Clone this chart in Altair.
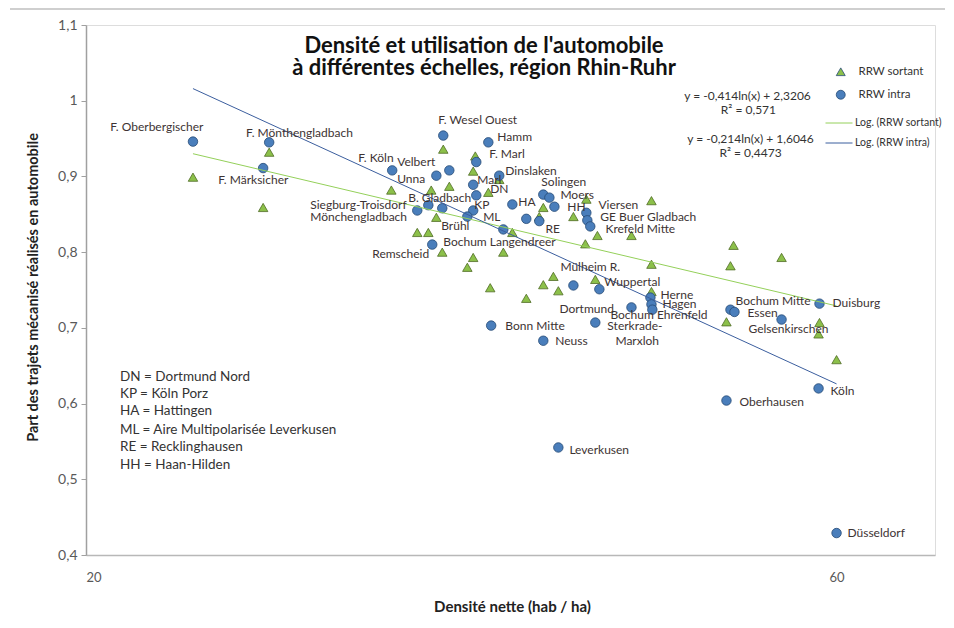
import altair as alt
import pandas as pd

# ---- data ----
sortant_x = [23.39, 26.15, 25.92, 31.27, 33.15, 34.04, 33.74, 35.36, 35.25, 36.04,
             36.62, 33.40, 32.48, 33.01, 33.69, 35.25, 34.95, 36.84, 37.33, 36.14,
             38.10, 39.06, 39.64, 39.93, 39.06, 38.83, 41.60, 40.82, 42.28, 41.54,
             42.15, 44.44, 45.76, 45.76, 45.76, 51.60, 51.37, 55.36, 51.07, 58.52,
             58.44, 60.00]
sortant_y = [0.899, 0.932, 0.859, 0.882, 0.882, 0.887, 0.936, 0.927, 0.907, 0.879,
             0.896, 0.846, 0.826, 0.826, 0.800, 0.793, 0.780, 0.800, 0.826, 0.753,
             0.739, 0.757, 0.768, 0.749, 0.859, 0.847, 0.870, 0.847, 0.822, 0.811,
             0.764, 0.822, 0.868, 0.784, 0.748, 0.809, 0.782, 0.793, 0.708, 0.707,
             0.692, 0.658]

intra_x = [23.39, 26.15, 25.92, 31.31, 33.40, 34.04, 33.74, 36.04, 35.41, 36.62,
           35.25, 35.41, 35.25, 34.95, 32.48, 33.01, 33.69, 37.33, 38.10, 36.84,
           39.06, 39.41, 39.70, 38.83, 41.60, 41.66, 41.84, 33.20, 40.82, 42.40,
           36.19, 39.06, 42.15, 44.44, 45.69, 45.76, 45.82, 51.37, 51.67, 55.36,
           58.52, 58.44, 51.07, 39.93, 60.00]
intra_y = [0.946, 0.945, 0.911, 0.908, 0.901, 0.908, 0.954, 0.945, 0.919, 0.901,
           0.889, 0.875, 0.855, 0.847, 0.855, 0.862, 0.858, 0.863, 0.844, 0.830,
           0.876, 0.872, 0.860, 0.841, 0.852, 0.842, 0.834, 0.810, 0.756, 0.751,
           0.703, 0.683, 0.707, 0.727, 0.740, 0.731, 0.724, 0.724, 0.721, 0.711,
           0.732, 0.620, 0.604, 0.542, 0.429]

label_text = ["F. Oberbergischer", "F. Mönthengladbach", "F. Märksicher", "F. Köln",
              "Velbert", "Unna", "F. Wesel Ouest", "Hamm", "F. Marl", "Dinslaken",
              "Marl", "DN", "B. Gladbach", "Siegburg-Troisdorf", "Mönchengladbach",
              "KP", "ML", "Brühl", "HA", "Solingen", "Moers", "HH", "RE", "Viersen",
              "GE Buer Gladbach", "Krefeld Mitte", "Bochum Langendreer", "Remscheid",
              "Mülheim R.", "Wuppertal", "Dortmund", "Herne", "Hagen",
              "Bochum Ehrenfeld", "Sterkrade-", "Marxloh", "Bochum Mitte", "Essen",
              "Gelsenkirschen", "Duisburg", "Bonn Mitte", "Neuss", "Leverkusen",
              "Oberhausen", "Köln", "Düsseldorf"]
label_x = [20.72, 25.28, 24.27, 29.79, 31.54, 31.54, 33.49, 36.52, 36.09, 36.95,
           35.46, 36.14, 32.05, 27.77, 27.77, 35.31, 35.77, 33.64, 37.66, 38.95,
           40.05, 40.46, 39.18, 42.34, 42.46, 42.78, 33.74, 30.41, 40.05, 42.71,
           39.99, 46.37, 46.50, 43.09, 42.90, 43.41, 51.75, 52.67, 52.74, 59.65,
           36.95, 39.75, 40.58, 52.05, 59.48, 60.97]
label_y = [0.965, 0.958, 0.895, 0.925, 0.9185, 0.897, 0.975, 0.952, 0.930, 0.907,
           0.895, 0.883, 0.872, 0.862, 0.847, 0.862, 0.846, 0.834, 0.866, 0.893,
           0.876, 0.859, 0.830, 0.862, 0.846, 0.830, 0.813, 0.797, 0.781, 0.761,
           0.725, 0.744, 0.731, 0.7175, 0.702, 0.682, 0.736, 0.720, 0.699, 0.733,
           0.703, 0.683, 0.539, 0.602, 0.617, 0.429]

trend_series = ["Log. (RRW sortant)", "Log. (RRW sortant)",
                "Log. (RRW intra)", "Log. (RRW intra)"]
trend_x = [23.39, 60.0, 23.39, 60.0]
trend_y = [0.930, 0.729, 1.016, 0.626]

eq_text = ["y = -0,414ln(x) + 2,3206", "R² = 0,571",
           "y = -0,214ln(x) + 1,6046", "R² = 0,4473"]
eq_x = [52.67, 52.74, 52.90, 52.90]
eq_y = [1.0058, 0.9873, 0.949, 0.9304]

abbr_text = ["DN = Dortmund Nord", "KP = Köln Porz", "HA = Hattingen",
             "ML = Aire Multipolarisée Leverkusen", "RE = Recklinghausen",
             "HH = Haan-Hilden"]
abbr_x = [21.02] * 6
abbr_y = [0.6354, 0.613, 0.5905, 0.5653, 0.5429, 0.519]

title_lines = ["Densité et utilisation de l'automobile",
               "à différentes échelles, région Rhin-Ruhr"]

y_ticks = [0.4, 0.5, 0.6, 0.7, 0.8, 0.9, 1.0, 1.1]
x_ticks = [20, 60]

# ---- tables ----
pts = pd.DataFrame({
    "x": sortant_x + intra_x,
    "y": sortant_y + intra_y,
    "series": ["RRW sortant"] * len(sortant_x) + ["RRW intra"] * len(intra_x),
})
labels = pd.DataFrame({"t": label_text, "x": label_x, "y": label_y})
trend = pd.DataFrame({"series": trend_series, "x": trend_x, "y": trend_y})
eqs = pd.DataFrame({"t": eq_text, "x": eq_x, "y": eq_y})
abbr = pd.DataFrame({"t": abbr_text, "x": abbr_x, "y": abbr_y})
title_df = pd.DataFrame({"t": title_lines, "row": [0, 1]})

FONT = "Lato"
W, H = 849, 530

xs = alt.Scale(type="log", domain=[20, 69.3], nice=False)
ys = alt.Scale(domain=[0.4, 1.1], nice=False, zero=False)

X = alt.X("x:Q", scale=xs, axis=alt.Axis(
    values=x_ticks, title="Densité nette (hab / ha)", grid=False, ticks=False,
    domainColor="#b8b8b8", domainWidth=1.5, labelFont=FONT, labelFontSize=13,
    labelColor="#595959", labelPadding=16, titleFont=FONT, titleFontSize=15,
    titleFontWeight="bold", titleColor="#222", titleX=426, titleY=51,
    titleBaseline="middle"))
Y = alt.Y("y:Q", scale=ys, axis=alt.Axis(
    values=y_ticks, title="Part des trajets mécanisé réalisés en automobile",
    grid=False, tickSize=5, tickColor="#a0a0a0", domainColor="#a0a0a0",
    domainWidth=1.5, labelFont=FONT, labelFontSize=14, labelColor="#595959",
    labelPadding=4,
    labelExpr="datum.value == 1 ? '1' : replace(format(datum.value, '.1f'), '.', ',')",
    titleFont=FONT, titleFontSize=14.5, titleFontWeight="bold", titleColor="#222",
    titleAngle=-90, titleX=-53, titleY=262, titleAlign="center",
    titleBaseline="middle"))

leg_pts = alt.Legend(title=None, orient="none", legendX=749, legendY=41,
                     labelFont=FONT, labelFontSize=11.5, labelFontWeight="normal",
                     labelColor="#333", symbolSize=80, rowPadding=10,
                     labelOffset=12, padding=0, symbolStrokeWidth=0.8)

points = alt.Chart(pts).mark_point(filled=True, size=90, strokeWidth=0.8,
                                   opacity=1).encode(
    x=X, y=Y,
    color=alt.Color("series:N", scale=alt.Scale(domain=["RRW sortant", "RRW intra"],
                                                range=["#8cc04a", "#4a7ebb"]),
                    legend=leg_pts),
    shape=alt.Shape("series:N", scale=alt.Scale(domain=["RRW sortant", "RRW intra"],
                                                range=["triangle-up", "circle"]),
                    legend=leg_pts),
    stroke=alt.condition("datum.series === 'RRW sortant'",
                         alt.value("#4f6b24"), alt.value("#264a75")),
)

lines = alt.Chart(trend).mark_line(strokeWidth=1).encode(
    x="x:Q", y="y:Q", detail="series:N",
    stroke=alt.Stroke("series:N",
                      scale=alt.Scale(domain=["Log. (RRW sortant)", "Log. (RRW intra)"],
                                      range=["#94d05a", "#3b5e9e"]),
                      legend=alt.Legend(title=None, orient="none", legendX=739,
                                        legendY=84, symbolType="stroke",
                                        symbolSize=729, symbolStrokeWidth=1,
                                        labelFont=FONT, labelFontSize=10.5,
                                        labelFontWeight="normal",
                                        labelColor="#333", labelOffset=2,
                                        rowPadding=0, padding=0)),
)

lbl = alt.Chart(labels).mark_text(align="left", baseline="middle", font=FONT,
                                  fontSize=12, color="#3d3333").encode(
    x="x:Q", y="y:Q", text="t:N")

eq = alt.Chart(eqs).mark_text(align="center", baseline="middle", font=FONT,
                              fontSize=12, color="#333").encode(
    x="x:Q", y="y:Q", text="t:N")

ab = alt.Chart(abbr).mark_text(align="left", baseline="middle", font=FONT,
                               fontSize=13.5, color="#333").encode(
    x="x:Q", y="y:Q", text="t:N")

ttl1 = alt.Chart(title_df).transform_filter("datum.row == 0").mark_text(
    align="center", baseline="middle", font=FONT, fontSize=22,
    fontWeight="bold", color="#111").encode(
    x=alt.value(398), y=alt.value(21), text="t:N")
ttl2 = alt.Chart(title_df).transform_filter("datum.row == 1").mark_text(
    align="center", baseline="middle", font=FONT, fontSize=22,
    fontWeight="bold", color="#111").encode(
    x=alt.value(398), y=alt.value(43), text="t:N")

border = alt.Chart(pd.DataFrame({"a": [0]})).mark_rule(
    color="#cfcfcf", strokeWidth=2).encode(
    x=alt.value(-76), x2=alt.value(860), y=alt.value(-16))

chart = alt.layer(border, points, lines, lbl, eq, ab, ttl1, ttl2).properties(
    width=W, height=H,
    autosize=alt.AutoSizeParams(type="none"),
    padding={"left": 78, "top": 17, "right": 10, "bottom": 60},
).configure_view(stroke=None).configure(background="white")

chart.save("out.html", embed_options={"renderer": "svg", "actions": False})
